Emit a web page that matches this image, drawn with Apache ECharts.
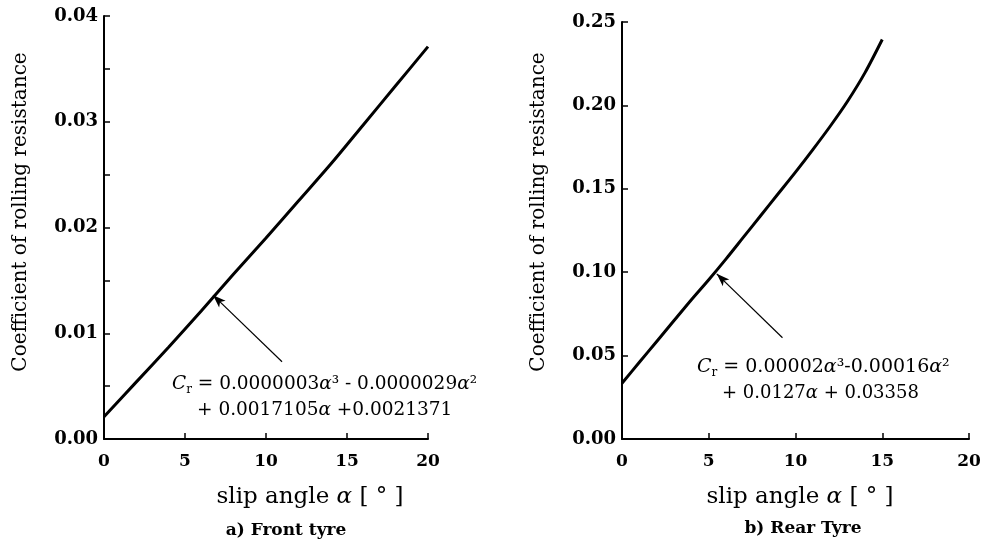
<!DOCTYPE html>
<html>
<head>
<meta charset="utf-8">
<script src="https://cdn.jsdelivr.net/npm/echarts@6/dist/echarts.min.js"></script>
<style>
  html, body { margin: 0; padding: 0; background: #fff; }
  #chart { width: 986px; height: 544px; }
</style>
</head>
<body>
<div id="chart"></div>
<script>
  // values
  const frontAlpha = [0, 2, 4, 6, 8, 10, 12, 14, 16, 18, 20];
  const frontCr = [0.0021, 0.0054, 0.0087, 0.0121, 0.0156, 0.0190, 0.0225, 0.0260, 0.0297, 0.0334, 0.0371];
  const rearAlpha = [0, 1, 2, 3, 4, 5, 6, 7, 8, 9, 10, 11, 12, 13, 14, 15];
  const rearCr = [0.0334, 0.0460, 0.0585, 0.0710, 0.0835, 0.0955, 0.1080, 0.1210, 0.1340, 0.1470, 0.1600, 0.1735, 0.1875, 0.2025, 0.2195, 0.2395];

  const serif = 'DejaVu Serif';

  function pairs(xs, ys) {
    return xs.map((x, i) => [x, ys[i]]);
  }

  function xAxisCfg(gridIndex) {
    return {
      gridIndex: gridIndex,
      type: 'value',
      min: 0,
      max: 20,
      interval: 5,
      splitLine: { show: false },
      axisLine: { lineStyle: { color: '#000', width: 2 } },
      axisTick: { inside: true, length: 6, lineStyle: { color: '#000', width: 1.5 } },
      axisLabel: { color: '#000', fontFamily: serif, fontWeight: 'bold', fontSize: 17, margin: 14 }
    };
  }

  function yAxisCfg(gridIndex, max, step, labelStep) {
    return {
      gridIndex: gridIndex,
      type: 'value',
      min: 0,
      max: max,
      interval: step,
      splitLine: { show: false },
      axisLine: { onZero: false, lineStyle: { color: '#000', width: 2 } },
      axisTick: { inside: true, length: 6, lineStyle: { color: '#000', width: 1.5 } },
      axisLabel: {
        color: '#000', fontFamily: serif, fontWeight: 'bold', fontSize: 18, margin: 6,
        formatter: function (v) {
          let k = Math.round(v / step);
          let every = Math.round(labelStep / step);
          return k % every === 0 ? v.toFixed(2) : '';
        }
      }
    };
  }

  function arrow(from, to) {
    return {
      silent: true,
      symbol: ['none', 'arrow'],
      symbolSize: [7, 13],
      label: { show: false },
      lineStyle: { color: '#000', width: 1.2, type: 'solid' },
      data: [[{ coord: from }, { coord: to }]]
    };
  }

  function richSet(size) {
    return {
      c: { fontFamily: serif, fontSize: size, fontStyle: 'italic', color: '#000' },
      s: { fontFamily: serif, fontSize: Math.round(size * 0.65), color: '#000', padding: [12, 0, 0, 0] },
      n: { fontFamily: serif, fontSize: size, color: '#000' },
      a: { fontFamily: serif, fontSize: size, fontStyle: 'italic', color: '#000' }
    };
  }

  function txt(x, y, text, size, weight, align) {
    return {
      type: 'text', x: x, y: y, silent: true,
      style: { text: text, fontFamily: serif, fontSize: size, fontWeight: weight || 'normal',
        fill: '#000', align: align || 'center', verticalAlign: 'middle' }
    };
  }

  function richTxt(x, y, text, size, align) {
    return {
      type: 'text', x: x, y: y, silent: true,
      style: { text: text, rich: richSet(size), align: align || 'left', verticalAlign: 'middle' }
    };
  }

  let dom = document.getElementById('chart');
  let myChart = echarts.init(dom, null, { renderer: 'canvas' });

  let option = {
    backgroundColor: '#fff',
    animation: false,
    grid: [
      { left: 104, top: 16, width: 324, height: 423, outerBoundsMode: 'none', containLabel: false },
      { left: 622, top: 22, width: 347, height: 417, outerBoundsMode: 'none', containLabel: false }
    ],
    xAxis: [xAxisCfg(0), xAxisCfg(1)],
    yAxis: [yAxisCfg(0, 0.04, 0.005, 0.01), yAxisCfg(1, 0.25, 0.05, 0.05)],
    series: [
      {
        type: 'line', xAxisIndex: 0, yAxisIndex: 0,
        data: pairs(frontAlpha, frontCr),
        smooth: 0.3, symbol: 'none',
        lineStyle: { color: '#000', width: 3 },
        markLine: arrow([10.99, 0.0073], [6.73, 0.0136])
      },
      {
        type: 'line', xAxisIndex: 1, yAxisIndex: 1,
        data: pairs(rearAlpha, rearCr),
        smooth: 0.3, symbol: 'none',
        lineStyle: { color: '#000', width: 3 },
        markLine: arrow([9.25, 0.0607], [5.46, 0.099])
      }
    ],
    graphic: [
      Object.assign(txt(21, 212, 'Coefficient of rolling resistance', 20), { rotation: Math.PI / 2 }),
      Object.assign(txt(539, 212, 'Coefficient of rolling resistance', 20), { rotation: Math.PI / 2 }),
      richTxt(310, 497, '{n|slip angle }{a|α}{n| [ ° ]}', 23, 'center'),
      richTxt(800, 497, '{n|slip angle }{a|α}{n| [ ° ]}', 23, 'center'),
      txt(286, 531, 'a) Front tyre', 17, 'bold'),
      txt(803, 529, 'b) Rear Tyre', 17, 'bold'),
      richTxt(172, 384, '{c|C}{s|r}{n| = 0.0000003}{a|α}{n|³ - 0.0000029}{a|α}{n|²}', 18.5),
      richTxt(197, 410, '{n|+ 0.0017105}{a|α}{n| +0.0021371}', 18.5),
      richTxt(697, 367, '{c|C}{s|r}{n| = 0.00002}{a|α}{n|³-0.00016}{a|α}{n|²}', 19),
      richTxt(722, 393, '{n|+ 0.0127}{a|α}{n| + 0.03358}', 18)
    ]
  };

  myChart.setOption(option);
  window.addEventListener('resize', () => { myChart.resize(); });
</script>
</body>
</html>
